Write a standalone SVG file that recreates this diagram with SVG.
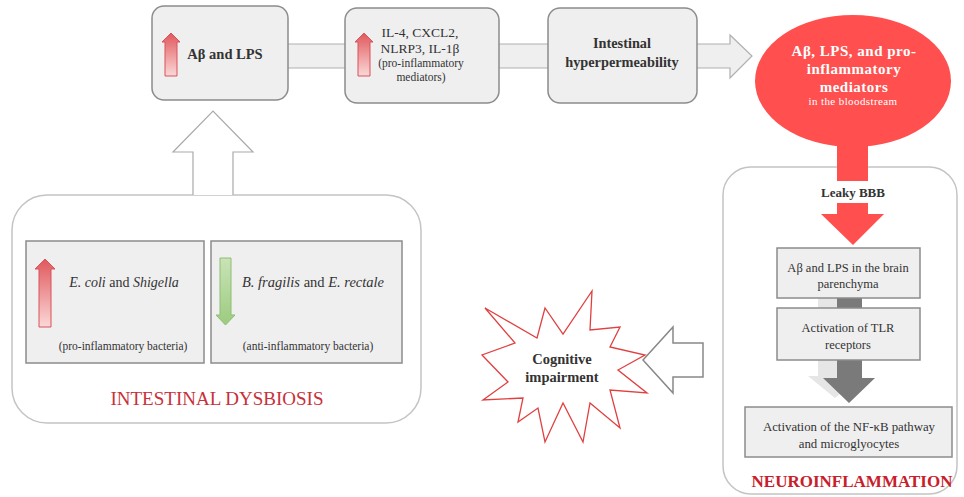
<svg xmlns="http://www.w3.org/2000/svg" width="964" height="497" viewBox="0 0 964 497">
<style>
text{font-family:"Liberation Serif","Times New Roman",serif;fill:#333;text-anchor:middle}
.box{fill:#efefef;stroke:#8c8c8c;stroke-width:1.5}
.b{font-weight:bold}
.cont{fill:#fff;stroke:#c4c4c4;stroke-width:1.5}
.red{fill:#ff4f4f}
.w{fill:#fff}
</style>
<defs>
<linearGradient id="gRed" x1="0" y1="0" x2="0" y2="1">
<stop offset="0" stop-color="#e0585c"/><stop offset="1" stop-color="#fbd8d8"/>
</linearGradient>
<linearGradient id="gGreen" x1="0" y1="0" x2="0" y2="1">
<stop offset="0" stop-color="#c9e3b6"/><stop offset="1" stop-color="#9ccb80"/>
</linearGradient>
</defs>

<g id="n-dysbiosis">
<rect x="12" y="195" width="409" height="228" rx="35" class="cont"/>
<rect x="26" y="241" width="178" height="122" class="box"/>
<path d="M39,327 L39,269 L35,269 L45,259 L55,269 L51,269 L51,327 Z" fill="url(#gRed)" stroke="#d9535a" stroke-width="1"/>
<text x="124" y="287" font-size="14"><tspan font-style="italic">E. coli</tspan> and <tspan font-style="italic">Shigella</tspan></text>
<text x="123" y="350" font-size="11.5">(pro-inflammatory bacteria)</text>
<rect x="211" y="241" width="191" height="122" class="box"/>
<path d="M220,258 L231,258 L231,315 L235,315 L225.5,325 L216,315 L220,315 Z" fill="url(#gGreen)" stroke="#8fbf72" stroke-width="1"/>
<text x="313" y="287" font-size="14.5"><tspan font-style="italic">B. fragilis</tspan> and <tspan font-style="italic">E. rectale</tspan></text>
<text x="308" y="350" font-size="11.5">(anti-inflammatory bacteria)</text>
<text x="217" y="405" font-size="19" style="fill:#c8303a">INTESTINAL DYSBIOSIS</text>
</g>

<g id="n-neuro">
<rect x="723" y="167" width="234" height="327" rx="28" class="cont"/>
<text x="853" y="197" font-size="13" class="b">Leaky BBB</text>
<path d="M818,298 L843,298 L843,376 L860,376 L835,398 L808,376 L818,376 Z" fill="#e6e6e6"/>
<path d="M837,298 L862,298 L862,378 L875,378 L849,403 L823,378 L837,378 Z" fill="#7a7a7a"/>
<rect x="777" y="248" width="143" height="50" class="box"/>
<text x="848" y="272" font-size="12.5">Aβ and LPS in the brain</text>
<text x="848" y="288" font-size="12.5">parenchyma</text>
<rect x="777" y="308" width="143" height="52" class="box"/>
<text x="848" y="332" font-size="12.5">Activation of TLR</text>
<text x="848" y="349" font-size="12.5">receptors</text>
<rect x="745" y="407" width="207" height="50" class="box"/>
<text x="849" y="431" font-size="12.8">Activation of the NF-κB pathway</text>
<text x="849" y="448" font-size="12.8">and microglyocytes</text>
<text x="852" y="487" font-size="17" class="b" style="fill:#c8202a">NEUROINFLAMMATION</text>
</g>

<g id="connectors">
<path d="M220,44 L730,44 L730,35 L752,56 L730,78 L730,68 L220,68 Z" fill="#efefef" stroke="#b0b0b0" stroke-width="1.2"/>
<path d="M193,195 L193,152 L173,152 L213,111 L253,152 L233,152 L233,195" fill="#fff" stroke="#aaa" stroke-width="1.2"/>
<rect x="837" y="140" width="31" height="41" class="red"/>
<path d="M837,203 L868,203 L868,214 L884,214 L853,245 L821,214 L837,214 Z" class="red"/>
<path d="M703,343 L703,377 L673,377 L673,393 L643,360 L673,327 L673,343 Z" fill="#fff" stroke="#888" stroke-width="1.5"/>
</g>

<g id="n-abeta-lps">
<rect x="152" y="6" width="136" height="94" rx="12" class="box"/>
<path d="M165,76 L165,42 L162,42 L171,33 L180,42 L177,42 L177,76 Z" fill="url(#gRed)" stroke="#d9535a" stroke-width="1"/>
<text x="225" y="59" font-size="14.5" class="b">Aβ and LPS</text>
</g>

<g id="n-mediators">
<rect x="345" y="8" width="154" height="95" rx="12" class="box"/>
<path d="M358,76 L358,42 L355,42 L364,33 L373,42 L370,42 L370,76 Z" fill="url(#gRed)" stroke="#d9535a" stroke-width="1"/>
<text x="420" y="37" font-size="13.5">IL-4, CXCL2,</text>
<text x="420" y="53" font-size="13.5">NLRP3, IL-1β</text>
<text x="421" y="67" font-size="11.5">(pro-inflammatory</text>
<text x="421" y="81" font-size="11.5">mediators)</text>
</g>

<g id="n-hyper">
<rect x="548" y="8" width="149" height="95" rx="12" class="box"/>
<text x="622" y="48" font-size="14.3" class="b">Intestinal</text>
<text x="622" y="67" font-size="14.3" class="b">hyperpermeability</text>
</g>

<g id="n-bloodstream">
<ellipse cx="853" cy="81" rx="98" ry="66" class="red"/>
<text x="854" y="56" font-size="15" class="b w" letter-spacing="0.5" style="fill:#fff">Aβ, LPS, and pro-</text>
<text x="854" y="74" font-size="15" class="b" letter-spacing="0.5" style="fill:#fff">inflammatory</text>
<text x="854" y="92" font-size="15" class="b" letter-spacing="0.5" style="fill:#fff">mediators</text>
<text x="853" y="105" font-size="11" letter-spacing="0.4" style="fill:#fff">in the bloodstream</text>
</g>

<g id="n-cognitive">
<path d="M485,308 L537,338 L545,308 L563,334 L592,291 L590,330 L620,327 L610,347 L645,355 L618,370 L647,393 L610,390 L620,428 L590,403 L583,442 L563,403 L545,442 L538,408 L518,422 L523,398 L483,400 L508,382 L482,355 L515,343 Z" fill="#fff" stroke="#e04040" stroke-width="1.3"/>
<text x="562" y="364" font-size="14.5" class="b">Cognitive</text>
<text x="562" y="382" font-size="14.5" class="b">impairment</text>
</g>
</svg>
